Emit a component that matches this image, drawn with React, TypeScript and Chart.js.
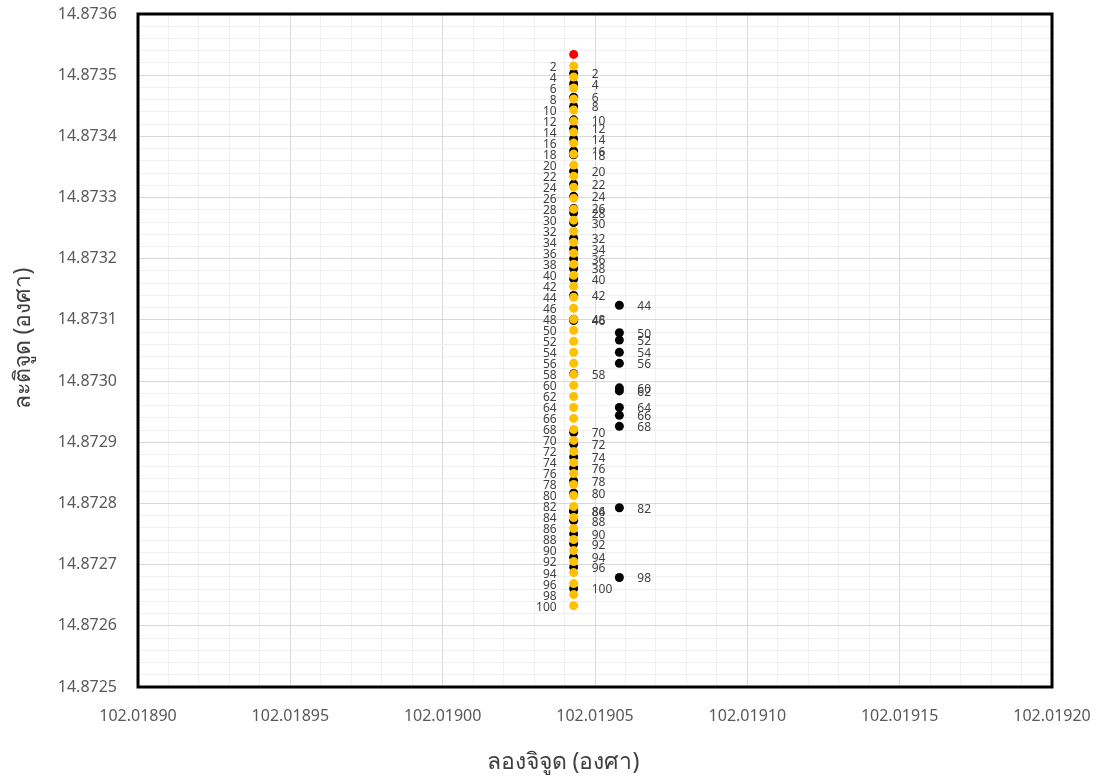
import React, { useEffect, useRef } from 'react';
import { Chart, registerables } from 'chart.js';

Chart.register(...registerables);

const xMin = 102.0189;
const xMax = 102.0192;
const yMin = 14.8725;
const yMax = 14.8736;

const xTitle = 'ลองจิจูด (องศา)';
const yTitle = 'ละติจูด (องศา)';

// starting point (red)
const startX = [102.019043];
const startY = [14.873534];

// yellow series (labels on the left)
const yellowLabels = [2, 4, 6, 8, 10, 12, 14, 16, 18, 20, 22, 24, 26, 28, 30, 32, 34, 36, 38, 40, 42, 44, 46, 48, 50, 52, 54, 56, 58, 60, 62, 64, 66, 68, 70, 72, 74, 76, 78, 80, 82, 84, 86, 88, 90, 92, 94, 96, 98, 100];
const yellowX = [
  102.019043, 102.019043, 102.019043, 102.019043, 102.019043, 102.019043, 102.019043, 102.019043, 102.019043, 102.019043,
  102.019043, 102.019043, 102.019043, 102.019043, 102.019043, 102.019043, 102.019043, 102.019043, 102.019043, 102.019043,
  102.019043, 102.019043, 102.019043, 102.019043, 102.019043, 102.019043, 102.019043, 102.019043, 102.019043, 102.019043,
  102.019043, 102.019043, 102.019043, 102.019043, 102.019043, 102.019043, 102.019043, 102.019043, 102.019043, 102.019043,
  102.019043, 102.019043, 102.019043, 102.019043, 102.019043, 102.019043, 102.019043, 102.019043, 102.019043, 102.019043,
];
const yellowY = [
  14.873515, 14.873497, 14.873479, 14.873461, 14.873443, 14.873425, 14.873407, 14.873389, 14.873371, 14.873353,
  14.873335, 14.873317, 14.873299, 14.873281, 14.873263, 14.873245, 14.873227, 14.873209, 14.873191, 14.873173,
  14.873155, 14.873137, 14.873119, 14.873101, 14.873083, 14.873065, 14.873047, 14.873029, 14.873011, 14.872993,
  14.872975, 14.872957, 14.872939, 14.872921, 14.872903, 14.872885, 14.872867, 14.872849, 14.872831, 14.872813,
  14.872795, 14.872777, 14.872759, 14.872741, 14.872723, 14.872705, 14.872687, 14.872669, 14.872651, 14.872633,
];

// black series (labels on the right)
const blackLabels = [2, 4, 6, 8, 10, 12, 14, 16, 18, 20, 22, 24, 26, 28, 30, 32, 34, 36, 38, 40, 42, 44, 46, 48, 50, 52, 54, 56, 58, 60, 62, 64, 66, 68, 70, 72, 74, 76, 78, 80, 82, 84, 86, 88, 90, 92, 94, 96, 98, 100];
const blackX = [
  102.019043, 102.019043, 102.019043, 102.019043, 102.019043, 102.019043, 102.019043, 102.019043, 102.019043, 102.019043,
  102.019043, 102.019043, 102.019043, 102.019043, 102.019043, 102.019043, 102.019043, 102.019043, 102.019043, 102.019043,
  102.019043, 102.019058, 102.019043, 102.019043, 102.019058, 102.019058, 102.019058, 102.019058, 102.019043, 102.019058,
  102.019058, 102.019058, 102.019058, 102.019058, 102.019043, 102.019043, 102.019043, 102.019043, 102.019043, 102.019043,
  102.019058, 102.019043, 102.019043, 102.019043, 102.019043, 102.019043, 102.019043, 102.019043, 102.019058, 102.019043,
];
const blackY = [
  14.873503, 14.873486, 14.873464, 14.873449, 14.873427, 14.873413, 14.873396, 14.873376, 14.873370, 14.873343,
  14.873322, 14.873302, 14.873282, 14.873275, 14.873259, 14.873233, 14.873216, 14.873200, 14.873184, 14.873167,
  14.873140, 14.873124, 14.873099, 14.873101, 14.873079, 14.873067, 14.873047, 14.873029, 14.873012, 14.872989,
  14.872984, 14.872957, 14.872944, 14.872926, 14.872916, 14.872897, 14.872876, 14.872858, 14.872837, 14.872817,
  14.872793, 14.872788, 14.872787, 14.872772, 14.872750, 14.872734, 14.872712, 14.872696, 14.872679, 14.872661,
];

const FONT = '"Noto Sans", "DejaVu Sans", sans-serif';

const isMajorX = (v: number) => Math.round(v * 1e5) % 5 === 0;
const isMajorY = (v: number) => Math.round(v * 1e5) % 10 === 0;

const overlayPlugin = {
  id: 'overlay',
  afterDraw(chart: any) {
    const { ctx, chartArea } = chart;
    ctx.save();
    // plot border
    ctx.lineWidth = 3;
    ctx.strokeStyle = '#000000';
    ctx.strokeRect(chartArea.left, chartArea.top, chartArea.right - chartArea.left, chartArea.bottom - chartArea.top);

    // data labels
    ctx.font = '12px ' + FONT;
    ctx.fillStyle = '#404040';
    ctx.textBaseline = 'middle';
    const yMeta = chart.getDatasetMeta(1);
    ctx.textAlign = 'right';
    yMeta.data.forEach((pt: any, i: number) => {
      ctx.fillText(String(yellowLabels[i]), pt.x - 17, pt.y + 1.5);
    });
    const bMeta = chart.getDatasetMeta(2);
    ctx.textAlign = 'left';
    bMeta.data.forEach((pt: any, i: number) => {
      ctx.fillText(String(blackLabels[i]), pt.x + 18, pt.y + 1.5);
    });

    // axis titles
    ctx.fillStyle = '#404040';
    ctx.font = '23px ' + FONT;
    ctx.textAlign = 'center';
    ctx.textBaseline = 'middle';
    const cx = (chartArea.left + chartArea.right) / 2 - 32;
    ctx.fillText(xTitle, cx, chartArea.bottom + 75);
    const cy = (chartArea.top + chartArea.bottom) / 2 - 12;
    ctx.translate(23, cy);
    ctx.rotate(-Math.PI / 2);
    ctx.fillText(yTitle, 0, 0);
    ctx.restore();
  },
};

export default function App() {
  const ref = useRef<HTMLCanvasElement>(null);

  useEffect(() => {
    const canvas = ref.current;
    if (!canvas) return;
    const toPts = (xs: number[], ys: number[]) => ys.map((y, i) => ({ x: xs[i], y }));
    const chart = new Chart(canvas, {
      type: 'scatter',
      data: {
        datasets: [
          {
            label: 'start',
            data: toPts(startX, startY),
            backgroundColor: '#FF0000',
            borderWidth: 0,
            pointRadius: 4.5,
            order: 0,
          },
          {
            label: 'yellow',
            data: toPts(yellowX, yellowY),
            backgroundColor: '#FFC000',
            borderWidth: 0,
            pointRadius: 4.5,
            order: 1,
          },
          {
            label: 'black',
            data: toPts(blackX, blackY),
            backgroundColor: '#000000',
            borderWidth: 0,
            pointRadius: 4.5,
            order: 2,
          },
        ],
      },
      options: {
        animation: false,
        responsive: true,
        maintainAspectRatio: false,
        layout: { padding: { top: 14, right: 49, left: 0, bottom: 0 } },
        plugins: { legend: { display: false }, tooltip: { enabled: false } },
        scales: {
          x: {
            type: 'linear',
            min: xMin,
            max: xMax,
            afterFit: (scale: any) => {
              scale.height = 95;
              scale.paddingLeft = 0;
              scale.paddingRight = 0;
            },
            border: { display: false },
            grid: {
              drawTicks: false,
              color: (c: any) => (c.tick && isMajorX(c.tick.value) ? '#d9d9d9' : '#f0f0f0'),
              lineWidth: 1,
            },
            ticks: {
              stepSize: 0.00001,
              autoSkip: false,
              maxRotation: 0,
              padding: 20,
              color: '#595959',
              font: { family: FONT, size: 16 },
              callback: (v: any) => (isMajorX(Number(v)) ? Number(v).toFixed(5) : ''),
            },
          },
          y: {
            type: 'linear',
            min: yMin,
            max: yMax,
            afterFit: (scale: any) => {
              scale.width = 138;
              scale.paddingTop = 0;
              scale.paddingBottom = 0;
            },
            border: { display: false },
            grid: {
              drawTicks: false,
              color: (c: any) => (c.tick && isMajorY(c.tick.value) ? '#d9d9d9' : '#f0f0f0'),
              lineWidth: 1,
            },
            ticks: {
              stepSize: 0.00002,
              autoSkip: false,
              padding: 21,
              color: '#595959',
              font: { family: FONT, size: 16 },
              callback: (v: any) => (isMajorY(Number(v)) ? Number(v).toFixed(4) : ''),
            },
          },
        },
      },
      plugins: [overlayPlugin],
    });
    return () => chart.destroy();
  }, []);

  return (
    <div style={{ position: 'fixed', left: 0, top: 0, width: 1101, height: 782, background: '#ffffff' }}>
      <canvas ref={ref} />
    </div>
  );
}
